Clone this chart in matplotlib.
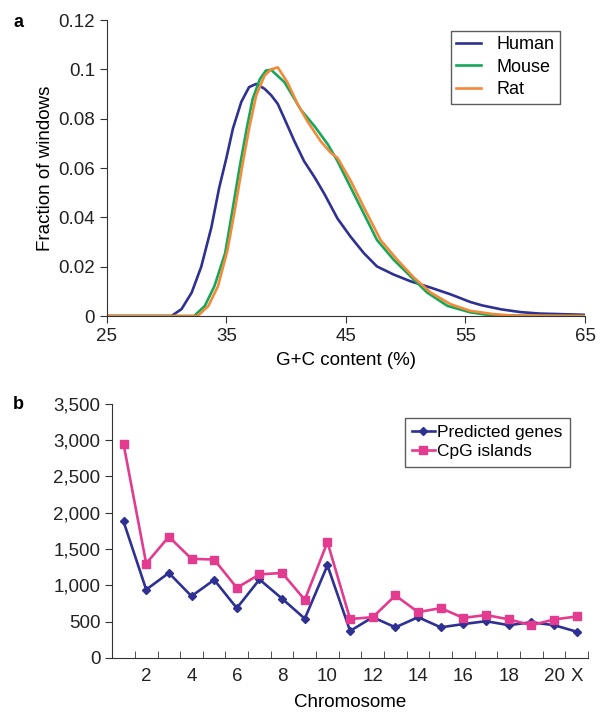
import matplotlib.pyplot as plt
from matplotlib.ticker import FuncFormatter, FixedLocator

plt.rcParams['font.family'] = ['Liberation Sans', 'DejaVu Sans']

# panel a: G+C content distributions
human_x = [25, 30.4, 31.25, 32.1, 32.9, 33.75, 34.4, 35.0, 35.55, 36.25, 36.9, 37.5, 38.2, 38.75,
           39.3, 39.86, 40.7, 41.5, 42.4, 43.2, 44.3, 45.4, 46.5, 47.6, 49.0, 50.4, 52.1, 53.75,
           55.4, 56.4, 58.0, 59.6, 61.2, 65]
human_y = [0, 0, 0.0028, 0.0095, 0.020, 0.036, 0.052, 0.064, 0.076, 0.0868, 0.0928, 0.0941, 0.0921,
           0.0895, 0.086, 0.080, 0.0708, 0.0628, 0.0561, 0.0495, 0.0395, 0.0321, 0.0255, 0.0201,
           0.0168, 0.0141, 0.0115, 0.0088, 0.0057, 0.0043, 0.0027, 0.0016, 0.001, 0.0005]

mouse_x = [25, 32.3, 33.2, 34.0, 34.9, 35.55, 36.1, 36.7, 37.2, 37.8, 38.3, 38.75, 39.86, 41.25,
           42.4, 43.5, 44.3, 45.4, 46.5, 47.6, 49.0, 50.4, 51.8, 53.5, 55.4, 56.7, 58.0, 65]
mouse_y = [0, 0, 0.0041, 0.0121, 0.0255, 0.0441, 0.060, 0.076, 0.088, 0.096, 0.0995, 0.0998,
           0.0948, 0.0835, 0.0768, 0.0695, 0.0628, 0.0521, 0.0415, 0.0308, 0.0228, 0.0161, 0.0095,
           0.0041, 0.0015, 0.0006, 0.0002, 0]

rat_x = [25, 32.6, 33.5, 34.3, 35.1, 35.75, 36.3, 36.9, 37.5, 38.2, 38.75, 39.3, 40.1, 41.0, 41.8,
         42.9, 43.75, 44.3, 45.4, 46.5, 47.9, 49.3, 50.7, 52.1, 53.75, 55.4, 57.3, 58.9, 65]
rat_y = [0, 0, 0.0041, 0.0121, 0.0268, 0.0441, 0.060, 0.076, 0.0895, 0.0975, 0.1, 0.1008, 0.0948,
         0.0855, 0.0788, 0.0708, 0.0661, 0.0641, 0.0548, 0.0441, 0.0308, 0.0228, 0.0155, 0.0095,
         0.0048, 0.0021, 0.0008, 0.0002, 0]

# panel b: counts per chromosome
chromosomes = list(range(1, 22))
chrom_labels = ['2', '4', '6', '8', '10', '12', '14', '16', '18', '20', 'X']
chrom_label_pos = [2, 4, 6, 8, 10, 12, 14, 16, 18, 20, 21]
predicted_genes = [1880, 940, 1170, 850, 1075, 685, 1080, 815, 540, 1275, 370, 560, 420, 560,
                   420, 465, 505, 450, 490, 450, 360]
cpg_islands = [2950, 1300, 1670, 1365, 1355, 965, 1150, 1170, 800, 1595, 535, 560, 860, 630,
               685, 550, 590, 530, 450, 528, 570]

c_human = '#2e3192'
c_mouse = '#16a75a'
c_rat = '#f28a3a'
c_pink = '#e23b8f'
c_axis = '#333333'
fs = 13.5

fig = plt.figure(figsize=(6, 7.15), dpi=100)

#Panel a
ax1 = fig.add_axes([0.178, 0.558, 0.797, 0.414])
for xs, ys, col, name in [(human_x, human_y, c_human, 'Human'),
                          (mouse_x, mouse_y, c_mouse, 'Mouse'),
                          (rat_x, rat_y, c_rat, 'Rat')]:
    ax1.plot(xs, ys, color=col, lw=1.9, label=name, solid_joinstyle='round')
ax1.set_xlim(25, 65)
ax1.set_ylim(0, 0.12)
ax1.set_xticks([25, 35, 45, 55, 65])
ax1.set_yticks([0, 0.02, 0.04, 0.06, 0.08, 0.1, 0.12])
ax1.yaxis.set_major_formatter(FuncFormatter(lambda v, p: '0' if v == 0 else f'{v:g}'))
ax1.set_xlabel('G+C content (%)', fontsize=fs, labelpad=5)
ax1.set_ylabel('Fraction of windows', fontsize=fs, labelpad=3)
leg1 = ax1.legend(loc='upper right', bbox_to_anchor=(0.948, 0.963), fontsize=13, frameon=True,
                  fancybox=False, edgecolor=c_axis, handlelength=1.4, handletextpad=0.85,
                  borderpad=0.3, borderaxespad=0, labelspacing=0.3)
leg1.get_frame().set_linewidth(1.0)

#Panel b
ax2 = fig.add_axes([0.187, 0.080, 0.793, 0.355])
ax2.plot(chromosomes, predicted_genes, color=c_human, lw=1.9, marker='D', markersize=4.5,
         label='Predicted genes')
ax2.plot(chromosomes, cpg_islands, color=c_pink, lw=1.9, marker='s', markersize=6,
         label='CpG islands')
ax2.set_xlim(0.5, 21.5)
ax2.set_ylim(0, 3500)
ax2.set_yticks(range(0, 3501, 500))
ax2.yaxis.set_major_formatter(FuncFormatter(lambda v, p: f'{int(v):,}'))
ax2.set_xticks(chrom_label_pos)
ax2.set_xticklabels(chrom_labels)
ax2.xaxis.set_minor_locator(FixedLocator([c + 0.5 for c in chromosomes]))
ax2.tick_params(axis='x', which='major', length=0, pad=7)
ax2.tick_params(axis='x', which='minor', direction='in', length=5, color=c_axis)
ax2.set_xlabel('Chromosome', fontsize=fs, labelpad=7)
leg2 = ax2.legend(loc='upper right', bbox_to_anchor=(0.962, 0.945), fontsize=12.5, frameon=True,
                  fancybox=False, edgecolor=c_axis, handlelength=1.3, handletextpad=0.15,
                  borderpad=0.42, borderaxespad=0, labelspacing=0.22)
leg2.get_frame().set_linewidth(1.0)

for ax in (ax1, ax2):
    ax.spines['top'].set_visible(False)
    ax.spines['right'].set_visible(False)
    ax.spines['left'].set_color(c_axis)
    ax.spines['bottom'].set_color(c_axis)
    ax.tick_params(labelsize=fs, colors=c_axis, labelcolor='#222222')
    ax.tick_params(axis='y', length=5)
ax1.tick_params(axis='x', length=5)

fig.text(0.022, 0.962, 'a', fontsize=13, fontweight='bold')
fig.text(0.022, 0.428, 'b', fontsize=13, fontweight='bold')

fig.savefig('out.png', dpi=100)
